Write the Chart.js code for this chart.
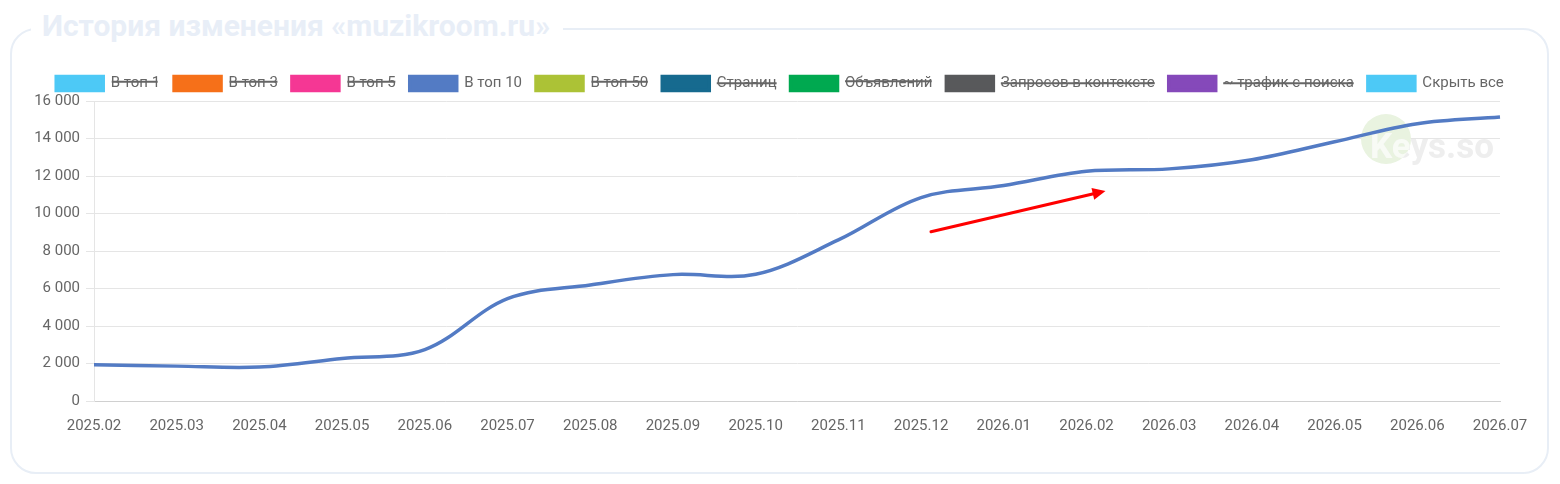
<!DOCTYPE html>
<html>
<head>
<meta charset="utf-8">
<script src="https://cdn.jsdelivr.net/npm/chart.js@4"></script>
<style>
    body { margin: 0; background: #fff; font-family: Roboto, sans-serif; }
    .card {
        position: absolute; left: 10px; top: 28px; width: 1539px; height: 446px;
        border: 2px solid #e8eef6; border-radius: 26px; box-sizing: border-box;
    }
    .title {
        position: absolute; left: 31px; top: 7px; padding: 0 13px 0 11px;
        background: #fff; color: #e8eef7; font: bold 30px Roboto, sans-serif;
        line-height: 38px; white-space: nowrap;
    }
    #wrap { position: absolute; left: 14px; top: 62px; width: 1532px; height: 381px; }
</style>
</head>
<body>
<div class="card"></div>
<div class="title">История изменения «muzikroom.ru»</div>
<div id="wrap"><canvas id="lineChart"></canvas></div>
<script>
// months
var labels = ['2025.02', '2025.03', '2025.04', '2025.05', '2025.06', '2025.07', '2025.08', '2025.09', '2025.10',
    '2025.11', '2025.12', '2026.01', '2026.02', '2026.03', '2026.04', '2026.05', '2026.06', '2026.07'];

// "В топ 10" - the only visible series
var top10 = [1930, 1860, 1810, 2270, 2740, 5460, 6190, 6740, 6760,
    8590, 10850, 11490, 12250, 12380, 12870, 13830, 14790, 15150];

var seriesNames = ['В топ 1', 'В топ 3', 'В топ 5', 'В топ 10', 'В топ 50', 'Страниц',
    'Объявлений', 'Запросов в контексте', '~ трафик с поиска', 'Скрыть все'];
var seriesColors = ['#4dc9f6', '#f67019', '#f53794', '#537bc4', '#acc236', '#166a8f',
    '#00a950', '#58595b', '#8549ba', '#4dc9f6'];
var seriesHidden = [true, true, true, false, true, true, true, true, true, false];

var yTicks = [0, 2000, 4000, 6000, 8000, 10000, 12000, 14000, 16000];

// red arrow (in data units: category index, value)
var arrowFrom = [10.12, 9030];
var arrowTo = [12.23, 11200];

var datasets = [];
for (var i = 0; i < seriesNames.length; i++) {
    datasets.push({
        label: seriesNames[i],
        data: seriesNames[i] === 'В топ 10' ? top10 : [],
        borderColor: seriesColors[i],
        backgroundColor: seriesColors[i],
        borderWidth: 3.5,
        pointRadius: 0,
        tension: 0.35,
        fill: false,
        hidden: seriesHidden[i]
    });
}

var extras = {
    id: 'extras',
    afterLayout: function (chart) {
        // legend in the original is centred on the whole card
        var l = chart.legend, shift = 780 - 14 - (l.left + l.right) / 2;
        l.left += shift;
        l.right += shift;
    },
    beforeDatasetsDraw: function (chart) {
        var ctx = chart.ctx, a = chart.chartArea;
        var cx = a.right - 114, cy = a.top + 38;
        var tx = a.right - 130, ty = a.top + 48;
        ctx.save();
        ctx.fillStyle = '#e9f3e0';
        ctx.beginPath();
        ctx.arc(cx, cy, 25, 0, Math.PI * 2);
        ctx.fill();
        ctx.font = 'bold 35px Roboto';
        ctx.fillStyle = '#eeeeee';
        ctx.fillText('Keys.so', tx, ty);
        // lighter letters over the green circle
        ctx.beginPath();
        ctx.arc(cx, cy, 25, 0, Math.PI * 2);
        ctx.clip();
        ctx.fillStyle = '#f8fbf5';
        ctx.fillText('Keys.so', tx, ty);
        ctx.restore();
    },
    afterDatasetsDraw: function (chart) {
        var ctx = chart.ctx, xs = chart.scales.x, ys = chart.scales.y;
        var x1 = xs.getPixelForValue(arrowFrom[0]), y1 = ys.getPixelForValue(arrowFrom[1]);
        var x2 = xs.getPixelForValue(arrowTo[0]), y2 = ys.getPixelForValue(arrowTo[1]);
        var ang = Math.atan2(y2 - y1, x2 - x1);
        ctx.save();
        ctx.strokeStyle = '#ff0000';
        ctx.fillStyle = '#ff0000';
        ctx.lineWidth = 3;
        ctx.lineCap = 'round';
        ctx.beginPath();
        ctx.moveTo(x1, y1);
        ctx.lineTo(x2 - 10 * Math.cos(ang), y2 - 10 * Math.sin(ang));
        ctx.stroke();
        ctx.beginPath();
        ctx.moveTo(x2, y2);
        ctx.lineTo(x2 - 13 * Math.cos(ang) + 6 * Math.sin(ang), y2 - 13 * Math.sin(ang) - 6 * Math.cos(ang));
        ctx.lineTo(x2 - 13 * Math.cos(ang) - 6 * Math.sin(ang), y2 - 13 * Math.sin(ang) + 6 * Math.cos(ang));
        ctx.closePath();
        ctx.fill();
        ctx.restore();
    }
};

Chart.defaults.font.family = 'Roboto';
Chart.defaults.font.size = 15;
Chart.defaults.color = '#666';

const CHART = document.getElementById('lineChart');
var lineChart = new Chart(CHART, {
    type: 'line',
    data: { labels: labels, datasets: datasets },
    options: {
        responsive: true,
        maintainAspectRatio: false,
        animation: false,
        layout: { padding: { left: 0, right: 46, top: 0, bottom: 0 } },
        plugins: {
            legend: {
                labels: { boxWidth: 47, boxHeight: 14, padding: 14, color: '#666' }
            },
            tooltip: { enabled: false }
        },
        scales: {
            x: {
                grid: { display: false },
                border: { color: '#d0d0d0' },
                ticks: { maxRotation: 0, autoSkip: false, padding: 8 }
            },
            y: {
                min: 0,
                max: 16000,
                afterFit: function (axis) { axis.width = 80; },
                afterBuildTicks: function (axis) {
                    axis.ticks = yTicks.map(function (v) { return { value: v }; });
                },
                grid: { color: '#e5e5e5' },
                border: { color: '#e5e5e5' },
                ticks: {
                    padding: 6,
                    callback: function (v) { return v.toLocaleString('ru-RU').replace(/\s/g, ' '); }
                }
            }
        }
    },
    plugins: [extras]
});
</script>
</body>
</html>
